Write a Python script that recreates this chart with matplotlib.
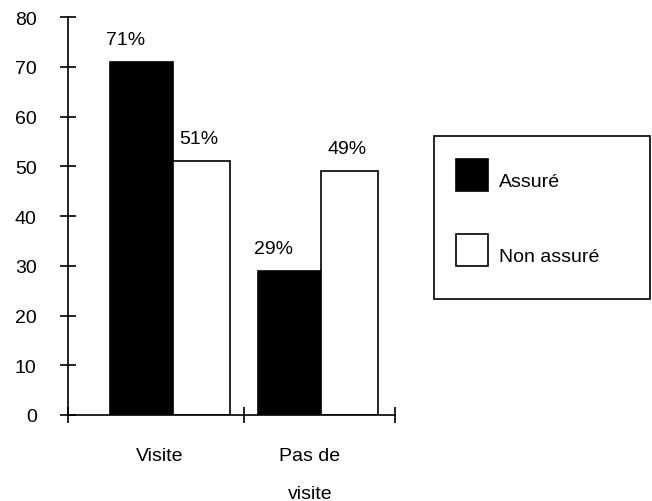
import matplotlib.pyplot as plt
from matplotlib.patches import Rectangle
from matplotlib.container import BarContainer
from matplotlib.legend_handler import HandlerPatch, update_from_first_child
import numpy as np

plt.rcParams['font.family'] = ['Liberation Sans', 'DejaVu Sans']

# data
categories = ['Visite', 'Pas de\nvisite']
series_names = ['Assuré', 'Non assuré']
assure = [71, 29]
non_assure = [51, 49]
pct_assure = ['71%', '29%']
pct_non_assure = ['51%', '49%']
y_ticks = [0, 10, 20, 30, 40, 50, 60, 70, 80]

# layout (x axis runs 0..2, groups are not evenly placed in the original)
split_pos = np.array([0.642, 1.547])   # where black bar meets white bar
label_pos = [0.563, 1.48]
bound_pos = [0, 1.076, 2]
wb, ww = 0.385, 0.349
fs = 14

fig = plt.figure(figsize=(6.52, 5.02), dpi=100)
ax = fig.add_axes([68/652, 86/502, 327/652, 398/502])

b1 = ax.bar(split_pos - wb, assure, wb, align='edge', color='black',
            edgecolor='black', linewidth=1.2, label=series_names[0])
b2 = ax.bar(split_pos, non_assure, ww, align='edge', color='white',
            edgecolor='black', linewidth=1.2, label=series_names[1])

for rect, txt in zip(b1, pct_assure):
    ax.annotate(txt, (rect.get_x() + rect.get_width()/2, rect.get_height()),
                xytext=(-11.5, 13), textcoords='offset points',
                ha='center', va='baseline', fontsize=fs)
for rect, txt in zip(b2, pct_non_assure):
    ax.annotate(txt, (rect.get_x() + rect.get_width()/2, rect.get_height()),
                xytext=(-2, 13), textcoords='offset points',
                ha='center', va='baseline', fontsize=fs)

ax.set_xlim(0, 2)
ax.set_ylim(0, 80)
ax.set_yticks(y_ticks)
ax.tick_params(axis='y', direction='inout', length=12, width=1.2,
               labelsize=fs, pad=16.5)

ax.set_xticks(label_pos)
ax.set_xticklabels(categories, fontsize=fs, linespacing=2.6)
ax.tick_params(axis='x', which='major', length=0, pad=23)
ax.set_xticks(bound_pos, minor=True)
ax.tick_params(axis='x', which='minor', direction='inout', length=12, width=1.2)

for s in ['top', 'right']:
    ax.spines[s].set_visible(False)
for s in ['left', 'bottom']:
    ax.spines[s].set_linewidth(1.2)


# legend squares: 23pt, bottom just under the text baseline
def square(legend, orig_handle, xdescent, ydescent, width, height, fontsize):
    return Rectangle((-xdescent - 6.5, -3.2), 23, 23)


leg = ax.legend(loc='center', bbox_to_anchor=(434/652, 202/502, 216/652, 163/502),
                bbox_transform=fig.transFigure, mode='expand', borderaxespad=0,
                fontsize=fs, handlelength=1.18, handleheight=1.65, handletextpad=0.57,
                labelspacing=2.55, borderpad=1.6, fancybox=False, framealpha=1,
                handler_map={BarContainer: HandlerPatch(patch_func=square,
                                                        update_func=update_from_first_child)})
leg.get_frame().set_edgecolor('black')
leg.get_frame().set_linewidth(1.2)

fig.savefig('out.png', dpi=100)
